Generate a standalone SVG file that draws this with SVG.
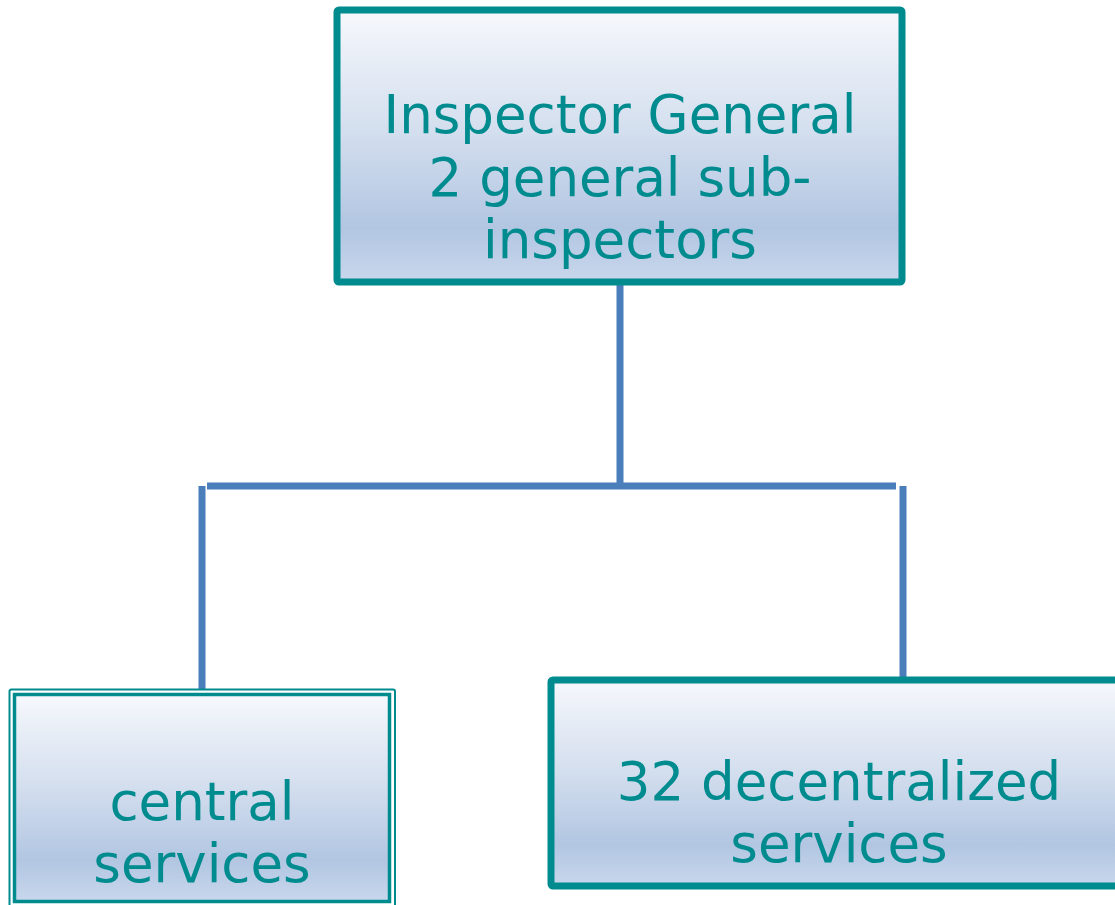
<svg xmlns="http://www.w3.org/2000/svg" width="1115" height="905" viewBox="0 0 1115 905">
<defs>
<linearGradient id="fill" x1="0" y1="0" x2="0" y2="1">
<stop offset="0" stop-color="#F6F8FC"/>
<stop offset="0.45" stop-color="#D3DEEE"/>
<stop offset="0.8" stop-color="#B2C6E2"/>
<stop offset="1" stop-color="#C8D7EC"/>
</linearGradient>
</defs>
<style>
.box{fill:url(#fill);stroke:#008B8F;stroke-width:7;stroke-linejoin:round}
.lbl{font-family:"DejaVu Sans",Verdana,sans-serif;font-size:53px;fill:#008B8F;text-anchor:middle}
.conn{stroke:#4A7EBB;stroke-width:7;fill:none}
</style>
<rect width="1115" height="905" fill="#FFFFFF"/>
<g id="connectors">
<line class="conn" x1="620" y1="284" x2="620" y2="486"/>
<line class="conn" x1="207" y1="486" x2="896" y2="486"/>
<line class="conn" x1="202" y1="486" x2="202" y2="690"/>
<line class="conn" x1="903" y1="486" x2="903" y2="679"/>
</g>
<g id="inspector-general">
<rect class="box" x="337" y="10" width="565" height="272" rx="2"/>
<text class="lbl" x="620" y="133">Inspector General</text>
<text class="lbl" x="620" y="196">2 general sub-</text>
<text class="lbl" x="620" y="258">inspectors</text>
</g>
<g id="central-services">
<rect x="9.5" y="689.5" width="385.5" height="230" rx="2" fill="none" stroke="#008B8F" stroke-width="2"/>
<rect x="14.5" y="694.5" width="375" height="207" fill="url(#fill)" stroke="#008B8F" stroke-width="3.5"/>
<text class="lbl" x="202" y="820">central</text>
<text class="lbl" x="202" y="882">services</text>
</g>
<g id="decentralized-services">
<rect class="box" x="551" y="680" width="600" height="206" rx="2"/>
<text class="lbl" x="839" y="800">32 decentralized</text>
<text class="lbl" x="839" y="862">services</text>
</g>
</svg>
